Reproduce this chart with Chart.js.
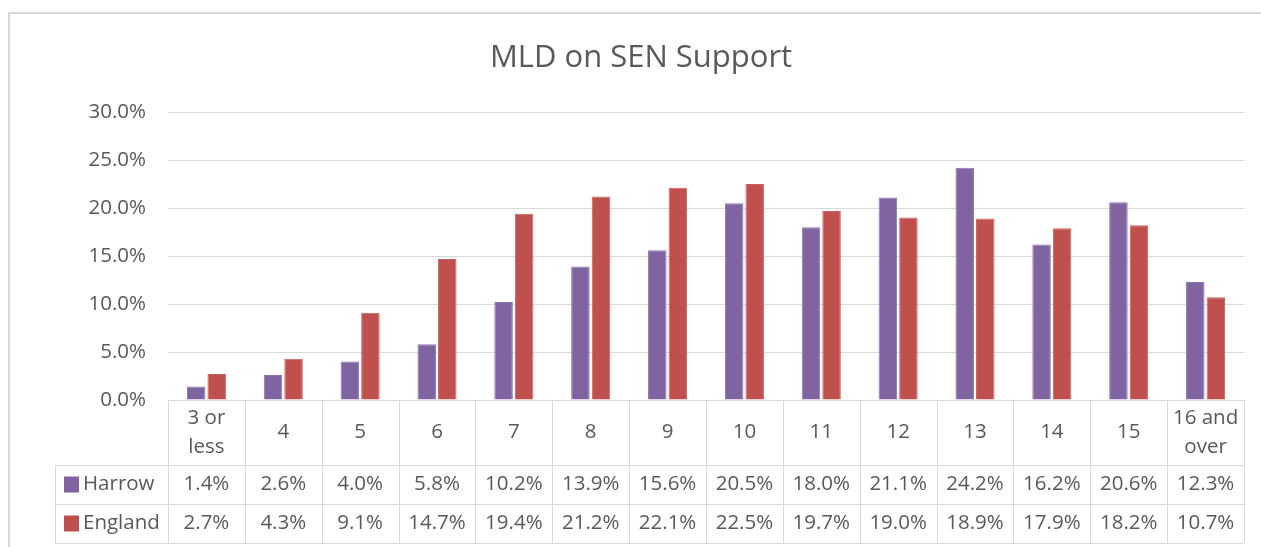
<!DOCTYPE html>
<html>
<head>
<meta charset="utf-8">
<script src="https://cdn.jsdelivr.net/npm/chart.js@4/dist/chart.umd.min.js"></script>
<style>
  html, body { margin: 0; padding: 0; background: #fff; }
  #wrap { position: relative; width: 1261px; height: 547px; }
</style>
</head>
<body>
<div id="wrap"><canvas id="myChart"></canvas></div>
<script>
// categories are age groups, values are percentages
const categories = [['3 or', 'less'], '4', '5', '6', '7', '8', '9', '10', '11', '12', '13', '14', '15', ['16 and', 'over']]
const harrow = [1.4, 2.6, 4.0, 5.8, 10.2, 13.9, 15.6, 20.5, 18.0, 21.1, 24.2, 16.2, 20.6, 12.3]
const england = [2.7, 4.3, 9.1, 14.7, 19.4, 21.2, 22.1, 22.5, 19.7, 19.0, 18.9, 17.9, 18.2, 10.7]
const yTicks = [0, 5, 10, 15, 20, 25, 30]
const title = 'MLD on SEN Support'

const FONT = "'Open Sans', 'Noto Sans', sans-serif"
const TEXT = '#595959'
const LINE = '#d9d9d9'
const PURPLE = '#8064a2'
const RED = '#c0504d'

// draws the outer frame, the title and the data table under the plot
const tablePlugin = {
  id: 'dataTable',
  beforeDraw (chart) {
    const c = chart.ctx
    c.save()
    c.fillStyle = '#fff'
    c.fillRect(0, 0, chart.width, chart.height)
    c.strokeStyle = LINE
    c.lineWidth = 2
    c.strokeRect(9, 13, chart.width + 10, chart.height + 10)
    c.fillStyle = TEXT
    c.font = '31px ' + FONT
    c.textAlign = 'center'
    c.textBaseline = 'middle'
    c.fillText(title, 641, 58)
    c.restore()
  },
  afterDraw (chart) {
    const c = chart.ctx
    const x = chart.scales.x
    const area = chart.chartArea
    const n = categories.length
    const colW = (area.right - area.left) / n
    const top = area.bottom
    const catH = 65
    const rowH = 39
    const legLeft = 55

    c.save()
    c.strokeStyle = LINE
    c.lineWidth = 1
    c.beginPath()
    // horizontal lines
    c.moveTo(area.left, top + 0.5); c.lineTo(area.right, top + 0.5)
    for (let r = 0; r <= 2; r++) {
      const y = Math.round(top + catH + r * rowH) + 0.5
      c.moveTo(legLeft, y); c.lineTo(area.right, y)
    }
    // vertical lines
    for (let i = 0; i <= n; i++) {
      const xx = Math.round(area.left + i * colW) + 0.5
      c.moveTo(xx, top); c.lineTo(xx, top + catH + 2 * rowH)
    }
    c.moveTo(legLeft + 0.5, top + catH); c.lineTo(legLeft + 0.5, top + catH + 2 * rowH)
    c.stroke()

    c.fillStyle = TEXT
    c.font = '20.5px ' + FONT
    c.textAlign = 'center'
    c.textBaseline = 'middle'
    categories.forEach((lab, i) => {
      const cx = x.getPixelForValue(i)
      const lines = Array.isArray(lab) ? lab : [lab]
      const lh = 29
      lines.forEach((t, k) => {
        c.fillText(t, cx, top + catH / 2 + (k - (lines.length - 1) / 2) * lh)
      })
    })

    const rows = [['Harrow', harrow, PURPLE], ['England', england, RED]]
    rows.forEach(([name, vals, col], r) => {
      const cy = top + catH + r * rowH + rowH / 2
      c.fillStyle = col
      c.fillRect(64, cy - 8, 15, 16)
      c.fillStyle = TEXT
      c.textAlign = 'left'
      c.fillText(name, 83, cy)
      c.textAlign = 'center'
      vals.forEach((v, i) => {
        c.fillText(v.toFixed(1) + '%', x.getPixelForValue(i), cy)
      })
    })
    c.restore()
  }
}

const ctx = document.getElementById('myChart')
const myChart = new Chart(ctx, {
  type: 'bar',
  data: {
    labels: categories,
    datasets: [{
      label: 'Harrow',
      data: harrow,
      backgroundColor: PURPLE,
      borderColor: '#8c74ac',
      borderWidth: 1
    }, {
      label: 'England',
      data: england,
      backgroundColor: RED,
      borderColor: '#c9625f',
      borderWidth: 1
    }]
  },
  plugins: [tablePlugin],
  options: {
    responsive: true,
    maintainAspectRatio: false,
    animation: false,
    datasets: {
      bar: { categoryPercentage: 0.535, barPercentage: 0.9 }
    },
    layout: { padding: { left: 0, right: 17, top: 112, bottom: 82 } },
    plugins: {
      legend: { display: false },
      tooltip: { enabled: false },
      title: { display: false }
    },
    scales: {
      x: {
        grid: { display: false },
        border: { display: false },
        ticks: { display: false },
        afterFit: s => { s.height = 65 }
      },
      y: {
        min: 0,
        max: 30,
        afterBuildTicks: s => { s.ticks = yTicks.map(v => ({ value: v })) },
        afterFit: s => { s.width = 168 },
        grid: { color: LINE, lineWidth: 1, drawTicks: false },
        border: { display: false },
        ticks: {
          color: TEXT,
          padding: 22,
          font: { family: FONT, size: 20.5 },
          callback: v => v.toFixed(1) + '%'
        }
      }
    }
  }
})
</script>
</body>
</html>
